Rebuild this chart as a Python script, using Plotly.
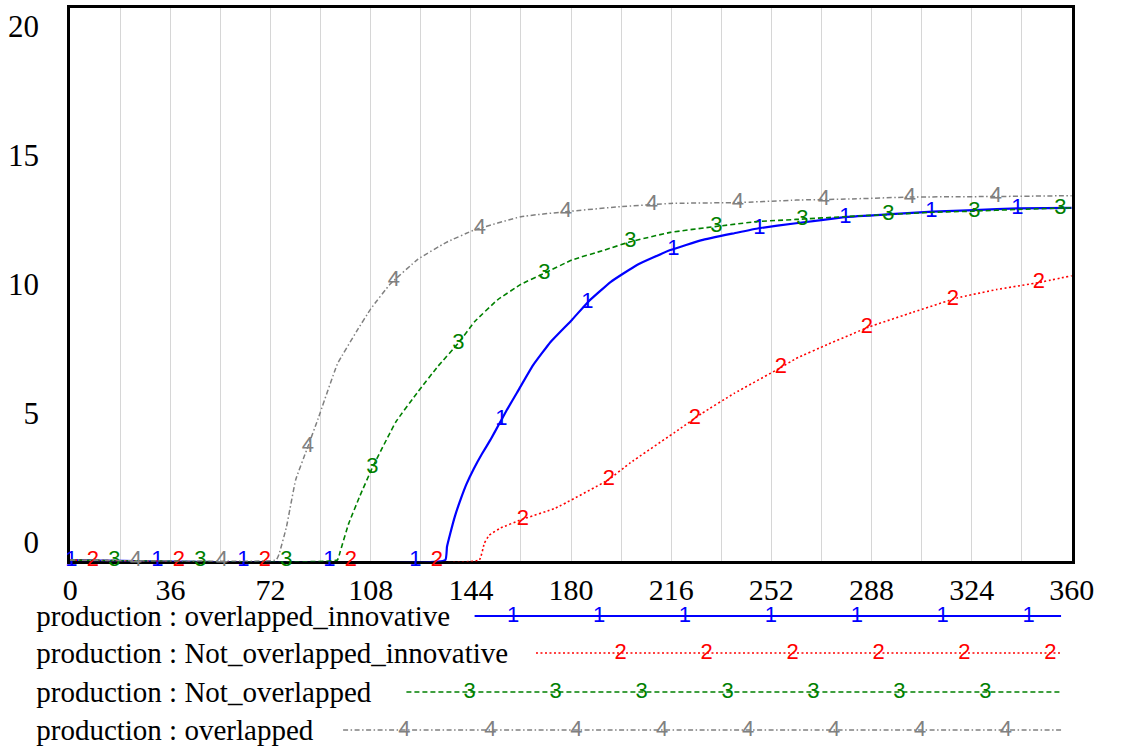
import numpy as np
import plotly.graph_objects as go

W, H = 1123, 749

# ---------------- data ----------------
names = ["production : overlapped_innovative",
         "production : Not_overlapped_innovative",
         "production : Not_overlapped",
         "production : overlapped"]
marker_labels = ["1", "2", "3", "4"]
colors = ["#0000FF", "#FF0000", "#008000", "#808080"]

t_ovl_innov = [0, 134.8, 135.4, 136.6, 138.3, 140.5, 142.4, 145, 148, 151, 154, 157, 160.5, 166.3,
               172.7, 180.3, 186.2, 194.3, 203.7, 215.7, 227, 238.7, 247.4, 260.9, 279, 295, 310, 325, 341, 360]
v_ovl_innov = [0, 0, 0.48, 0.97, 1.6, 2.25, 2.75, 3.3, 3.85, 4.35, 4.9, 5.45, 6.05, 7.05,
               7.91, 8.7, 9.36, 10.08, 10.69, 11.23, 11.59, 11.84, 12.02, 12.2, 12.43, 12.53, 12.62, 12.68, 12.74, 12.76]

t_not_ovl_innov = [0, 147, 148.8, 150.6, 154.7, 161.8, 174.4, 193.3, 201, 218.8, 227, 238.7, 255, 260.9,
                   272, 287, 303, 319, 333, 348, 360]
v_not_ovl_innov = [0, 0, 0.6, 0.9, 1.16, 1.45, 1.88, 2.9, 3.5, 4.73, 5.31, 6.04, 6.95, 7.3,
                   7.8, 8.44, 8.98, 9.5, 9.8, 10.05, 10.3]

t_not_ovl = [0, 96, 97, 100, 104, 108.5, 117, 125, 132, 139.5, 145.3, 153.5, 162, 170.4, 180.3, 192,
             201.3, 215.7, 231.7, 246.8, 260.9, 280, 294.5, 310, 325, 340, 360]
v_not_ovl = [0, 0, 0.3, 1.3, 2.3, 3.33, 5.0, 6.1, 7.0, 7.86, 8.63, 9.42, 9.99, 10.39, 10.87, 11.23,
             11.53, 11.87, 12.08, 12.26, 12.34, 12.45, 12.52, 12.6, 12.64, 12.7, 12.76]

t_ovl = [0, 74, 75, 77.7, 81, 85, 89, 96, 103, 108, 115, 125, 135, 145.3, 162, 178, 197.5, 215.7,
         239.8, 260.9, 280, 302, 333, 360]
v_ovl = [0, 0, 0.2, 1.2, 2.9, 4.0, 5.1, 7.1, 8.3, 9.1, 10.0, 10.9, 11.5, 11.96, 12.44, 12.62, 12.8, 12.92,
         12.95, 13.04, 13.08, 13.15, 13.17, 13.2]

series_t = [t_ovl_innov, t_not_ovl_innov, t_not_ovl, t_ovl]
series_v = [v_ovl_innov, v_not_ovl_innov, v_not_ovl, v_ovl]

x_tick_vals = list(range(0, 361, 18))
x_tick_text = [str(v) if v % 36 == 0 else "" for v in x_tick_vals]
y_label_text = ["20", "15", "10", "5", "0"]
y_label_vals = [19.35, 14.67, 10.0, 5.33, 0.65]
y_grid_vals = [1.01, 5, 10, 15]

# ---------------- styles / positions ----------------
widths = [2.2, 1.6, 1.6, 1.5]
dashes = ["solid", "2px,2.5px", "5px,3px", "5px,2.5px,1.5px,2.5px"]
mark_start, mark_step, mark_offset = 0.35, 30.92, 7.73

leg_y = [616, 653, 692, 730]
leg_text_dy = 3
leg_line_start = [480, 543, 410, 345]
leg_line_end = 1082
leg_mark_first = [519.5, 630, 475, 408]
leg_mark_step = 88.2

serif = "Liberation Serif"
sans = "Liberation Sans"

px_unit = 27.6
y_min = -0.05
y_top_px, y_bot_px = 8, 560 - y_min * px_unit
x_left_px, x_right_px = 65, 1093

fig = go.Figure()

for i in range(4):
    t = np.array(series_t[i], float)
    v = np.array(series_v[i], float)
    fig.add_trace(go.Scatter(x=t, y=v, mode="lines",
                             line=dict(color=colors[i], width=widths[i], dash=dashes[i],
                                       shape="spline", smoothing=0.3),
                             showlegend=False, hoverinfo="skip"))
    mt = np.arange(mark_start + mark_offset * i, 360.01, mark_step)
    mv = np.interp(mt, t, v)
    fig.add_trace(go.Scatter(x=mt, y=mv, mode="text", text=[marker_labels[i]] * len(mt),
                             textposition="middle center", cliponaxis=False,
                             textfont=dict(family=sans, size=22, color=colors[i]),
                             showlegend=False, hoverinfo="skip"))

# legend drawn on an auxiliary pixel-mapped axis
for i in range(4):
    fig.add_trace(go.Scatter(x=[leg_line_start[i], leg_line_end], y=[leg_y[i], leg_y[i]],
                             mode="lines", xaxis="x2", yaxis="y2",
                             line=dict(color=colors[i], width=1.6 if i else 2, dash=dashes[i]),
                             showlegend=False, hoverinfo="skip"))
    mx = np.arange(leg_mark_first[i], leg_line_end - 5, leg_mark_step)
    fig.add_trace(go.Scatter(x=mx, y=[leg_y[i]] * len(mx), mode="text",
                             text=[marker_labels[i]] * len(mx), xaxis="x2", yaxis="y2",
                             textposition="middle center", cliponaxis=False,
                             textfont=dict(family=sans, size=22, color=colors[i]),
                             showlegend=False, hoverinfo="skip"))
    fig.add_trace(go.Scatter(x=[30], y=[leg_y[i] + leg_text_dy], mode="text", text=[names[i]],
                             xaxis="x2", yaxis="y2", textposition="middle right",
                             cliponaxis=False,
                             textfont=dict(family=serif, size=29, color="black"),
                             showlegend=False, hoverinfo="skip"))

fig.update_layout(
    width=W, height=H,
    margin=dict(l=0, r=0, t=0, b=0),
    paper_bgcolor="white", plot_bgcolor="white",
    xaxis=dict(domain=[x_left_px / W, x_right_px / W], range=[0, 360],
               tickvals=x_tick_vals, ticktext=x_tick_text,
               showgrid=True, gridcolor="#d6d6d6", gridwidth=1,
               zeroline=False, showline=True, mirror=True, linecolor="black", linewidth=3,
               ticks="", ticklabelstandoff=0, layer="below traces",
               tickfont=dict(family=serif, size=30, color="black")),
    yaxis=dict(domain=[(H - y_bot_px) / H, (H - y_top_px) / H], range=[y_min, 20],
               tickvals=y_label_vals, ticktext=y_label_text,
               showgrid=False, zeroline=False, showline=True, mirror=True,
               linecolor="black", linewidth=3, ticks="", ticklabelstandoff=22,
               layer="below traces",
               tickfont=dict(family=serif, size=31, color="black")),
    yaxis3=dict(overlaying="y", range=[y_min, 20], tickvals=y_grid_vals,
                showticklabels=False, showgrid=True, gridcolor="#c4c4c4", gridwidth=1,
                zeroline=False, showline=False, ticks=""),
    xaxis2=dict(domain=[0, 1], range=[0, W], visible=False, anchor="y2"),
    yaxis2=dict(domain=[0, (H - 600) / H], range=[H, 600], visible=False, anchor="x2"),
    hovermode=False,
)

fig.write_html("out.html", config={"displayModeBar": False})
